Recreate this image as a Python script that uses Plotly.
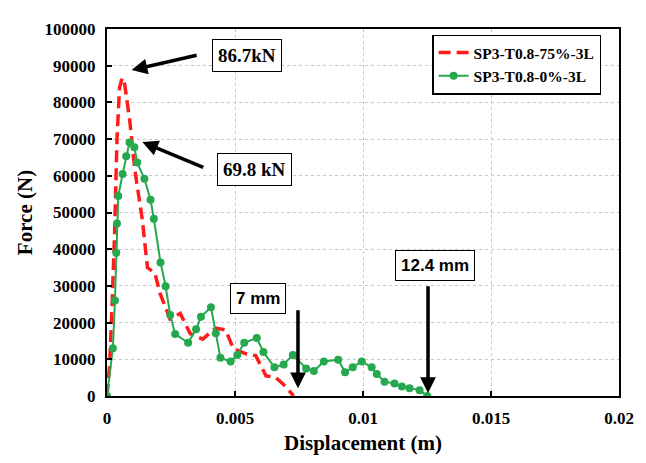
import plotly.graph_objects as go

# SP3-T0.8-75%-3L (red dashed)
disp_75 = [0, 0.0001, 0.0002, 0.0003, 0.00039, 0.00049, 0.00059, 0.00069, 0.00089, 0.00108,
           0.00138, 0.00158, 0.00187, 0.00207, 0.00246, 0.00286, 0.00325, 0.00374, 0.00424,
           0.00463, 0.00493, 0.00542, 0.00581, 0.00621, 0.0066, 0.00699, 0.00729]
force_75 = [0, 8000, 25000, 45000, 70000, 84000, 86700, 85000, 75000, 62000,
            48000, 35000, 33500, 28000, 21000, 22500, 17000, 15500, 18500,
            18000, 13000, 11500, 11000, 5500, 5000, 2500, 0]

# SP3-T0.8-0%-3L (green with markers)
disp_0 = [0, 0.00023, 0.00031, 0.00036, 0.00039, 0.00044, 0.00061, 0.00075, 0.00088,
          0.00107, 0.00118, 0.00146, 0.0017, 0.00183, 0.00209, 0.00229, 0.00247,
          0.00266, 0.00317, 0.00348, 0.00367, 0.00406, 0.00425, 0.00443, 0.00483,
          0.00509, 0.00536, 0.00585, 0.00611, 0.00654, 0.0069, 0.00726, 0.00778,
          0.00808, 0.00847, 0.00903, 0.0093, 0.0096, 0.00995, 0.01034, 0.01054,
          0.01084, 0.01123, 0.01152, 0.01182, 0.01221, 0.01251]
force_0 = [0, 13000, 26000, 39000, 47000, 54500, 60500, 65300, 69100,
           67800, 63600, 59200, 53500, 48300, 36400, 29900, 22100,
           16900, 14500, 18200, 21600, 24200, 17100, 10400, 9400,
           11200, 14500, 15800, 12000, 7800, 8600, 11200, 7500,
           6800, 9400, 9900, 6500, 7800, 9400, 7800, 6000,
           3900, 3400, 2600, 2100, 1600, 0]

x_ticks = [0, 0.005, 0.01, 0.015, 0.02]
x_tick_text = ['0', '0.005', '0.01', '0.015', '0.02']
y_ticks = list(range(0, 100001, 10000))

serif = 'Liberation Serif'
sans = 'Liberation Sans'

fig = go.Figure()
fig.add_trace(go.Scatter(
    x=disp_75, y=force_75, mode='lines', name='<b>SP3-T0.8-75%-3L</b>',
    line=dict(color='#ff1c1c', width=3.5, dash='12px,6px'),
))
fig.add_trace(go.Scatter(
    x=disp_0, y=force_0, mode='lines+markers', name='<b>SP3-T0.8-0%-3L</b>',
    line=dict(color='#25a84e', width=2),
    marker=dict(color='#25a84e', size=8),
))

# boxed labels
def box_label(x, y, text, font, size):
    fig.add_annotation(
        x=x, y=y, xref='x', yref='y', text='<b>' + text + '</b>', showarrow=False,
        font=dict(family=font, size=size, color='black'),
        bordercolor='black', borderwidth=1, borderpad=5, bgcolor='white',
    )

# thick arrows
def arrow(x0, y0, x1, y1):
    fig.add_annotation(
        x=x1, y=y1, ax=x0, ay=y0, xref='x', yref='y', axref='x', ayref='y',
        text='', showarrow=True, arrowhead=2, arrowsize=0.9, arrowwidth=3.5,
        arrowcolor='black',
    )

box_label(0.00547, 92700, '86.7kN', serif, 19)
box_label(0.00577, 61600, '69.8 kN', serif, 19)
box_label(0.00589, 26600, '7 mm', sans, 17)
box_label(0.01281, 35500, '12.4 mm', sans, 17)
arrow(0.00356, 92950, 0.00096, 88800)
arrow(0.00382, 62100, 0.00138, 69200)
arrow(0.00746, 23760, 0.00746, 2100)
arrow(0.01254, 30300, 0.01254, 800)

axis_common = dict(
    showline=True, linecolor='black', linewidth=2, mirror=True,
    ticks='inside', ticklen=5, tickcolor='black', tickwidth=1.5,
    showgrid=True, gridcolor='#c8c8c8', griddash='dot', gridwidth=1,
    zeroline=False, ticklabelstandoff=6,
    tickfont=dict(family=serif, size=17, color='black'),
)

fig.update_layout(
    width=638, height=455,
    margin=dict(l=99, r=16, t=12, b=60),
    paper_bgcolor='white', plot_bgcolor='white',
    xaxis=dict(
        range=[0, 0.02], tickvals=x_ticks,
        ticktext=['<b>' + t + '</b>' for t in x_tick_text],
        title=dict(text='<b>Displacement (m)</b>', font=dict(family=serif, size=21, color='black'),
                   standoff=8),
        **axis_common,
    ),
    yaxis=dict(
        range=[0, 100000], tickvals=y_ticks,
        ticktext=['<b>' + str(v) + '</b>' for v in y_ticks],
        title=dict(text='<b>Force (N)</b>', font=dict(family=serif, size=21, color='black'),
                   standoff=6),
        **axis_common,
    ),
    legend=dict(
        x=0.635, y=0.985, xanchor='left', yanchor='top',
        bordercolor='black', borderwidth=1.5, bgcolor='white',
        font=dict(family=serif, size=15.5, color='black'),
        tracegroupgap=0, itemwidth=30,
    ),
    showlegend=True,
)

fig.write_html("out.html")
